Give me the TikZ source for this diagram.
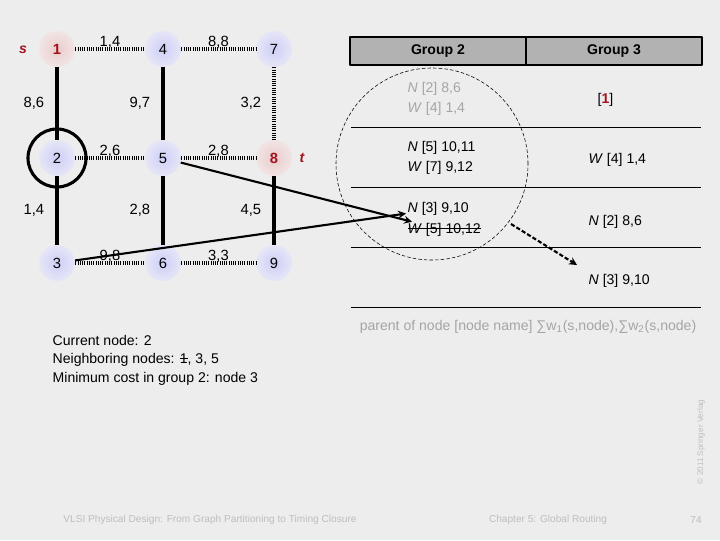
\documentclass[tikz,border=0pt]{standalone}
\usepackage{fontspec}
\setmainfont{Liberation Sans}
\usetikzlibrary{positioning}
\definecolor{bgcol}{RGB}{237,237,237}
\definecolor{sred}{RGB}{160,20,30}
\definecolor{hgray}{RGB}{178,178,178}
\definecolor{fadegray}{RGB}{165,165,165}
\definecolor{footgray}{RGB}{190,190,190}
\newcommand{\ita}[1]{\textit{#1}}
\newcommand{\strk}[1]{\setbox0\hbox{#1}\rlap{\raisebox{0.32em}{\rule{\wd0}{0.5pt}}}\box0}

\begin{document}
\begin{tikzpicture}[x=0.025cm, y=-0.025cm, font=\fontsize{10.5}{12}\selectfont, line join=round, >=stealth]
	\tikzset{gnode/.style={circle, minimum size=0.9cm, inner sep=0pt, shading=radial,
			inner color={rgb,255:red,206;green,206;blue,247}, outer color={rgb,255:red,230;green,230;blue,247}},
		snode/.style={gnode, inner color={rgb,255:red,234;green,204;blue,204}, outer color={rgb,255:red,242;green,228;blue,228},
			text=sred, font=\fontsize{10.5}{12}\selectfont\bfseries},
		dotedge/.style={line width=2.2pt, dash pattern=on 0.8pt off 0.8pt},
		soledge/.style={line width=2.2pt},
		elab/.style={inner sep=1pt},
		hcell/.style={draw, line width=1.5pt, fill=hgray, minimum width=4.4cm, minimum height=0.7cm, font=\fontsize{10}{12}\selectfont\bfseries},
		entry/.style={anchor=west, inner sep=1pt, align=left, font=\fontsize{10}{14}\selectfont},
		arr/.style={->, line width=1.5pt}}
	\useasboundingbox[fill=bgcol] (0,0) rectangle (720,540);

	% grid graph
	\foreach \n/\x/\y in {4/163/49, 7/274/49, 2/57/158, 5/163/158, 3/57/263, 6/163/263, 9/274/263}
		\node[gnode] (n\n) at (\x,\y) {\n};
	\node[snode] (n1) at (57,49) {1};
	\node[snode] (n8) at (274,158) {8};
	\node[text=sred, font=\bfseries\itshape] (ls) at (23,50) {s};
	\node[text=sred, font=\bfseries\itshape] (lt) at (302,158) {t};

	\foreach \a/\b/\w in {1/4/{1,4}, 4/7/{8,8}, 2/5/{2,6}, 5/8/{2,8}, 3/6/{9,8}, 6/9/{3,3}}
		\draw[dotedge] (n\a) -- (n\b) node[midway, above=-2pt, elab] {\w};
	\foreach \a/\b/\w in {1/2/{8,6}, 4/5/{9,7}, 2/3/{1,4}, 5/6/{2,8}, 8/9/{4,5}}
		\draw[soledge] (n\a) -- (n\b) node[midway, left=7pt, elab] {\w};
	\draw[dotedge] (n7) -- (n8) node[midway, left=7pt, elab] {3,2};
	\draw[line width=2.2pt] (n2) circle (0.725cm);

	% table of groups
	\node[hcell] (g2) at (438,51) {Group 2};
	\node[hcell] (g3) at (614,51) {Group 3};
	\foreach \y in {127,187,247,307} \draw (351,\y) -- (701,\y);
	\node[entry, text=fadegray] (r1a) at (406,99) {\ita{N} [2] 8,6\\\ita{W} [4] 1,4};
	\node[entry] (r2a) at (406,158) {\ita{N} [5] 10,11\\\ita{W} [7] 9,12};
	\node[entry] (n3b) at (406,209) {\ita{N} [3] 9,10};
	\node[entry] (w5b) at (406,230) {\strk{\ita{W} [5] 10,12}};
	\node[entry] (r1b) at (596,100) {[\textcolor{sred}{\bfseries 1}]};
	\node[entry] (r2b) at (587,160) {\ita{W} [4] 1,4};
	\node[entry] (r3b) at (587,222) {\ita{N} [2] 8,6};
	\node[entry] (r4b) at (587,281) {\ita{N} [3] 9,10};
	\node[text=fadegray, font=\fontsize{10}{12}\selectfont] (legend) at (528,327)
		{parent of node [node name] ∑w\textsubscript{1}(s,node),∑w\textsubscript{2}(s,node)};
	\draw[dashed, dash pattern=on 2.5pt off 1.5pt] (432,164) circle (2.4cm);

	\draw[arr] (n5) -- (w5b);
	\draw[arr] (n3) -- (n3b);
	\coordinate (d1) at (511,224);
	\coordinate (d2) at (577,265);
	\draw[->, line width=1.5pt, dash pattern=on 3pt off 1.5pt] (d1) -- (d2);

	\node[entry, font=\fontsize{10}{13.2}\selectfont] (info) at (51,360)
		{Current node: 2\\Neighboring nodes: \strk{1}, 3, 5\\Minimum cost in group 2: node 3};

	% footer
	\node[text=footgray, font=\fontsize{7.2}{8}\selectfont] (f1) at (210,520) {VLSI Physical Design: From Graph Partitioning to Timing Closure};
	\node[text=footgray, font=\fontsize{7.2}{8}\selectfont] (f2) at (548,520) {Chapter 5: Global Routing};
	\node[text=footgray, font=\fontsize{7.2}{8}\selectfont] (f3) at (696,520) {74};
	\node[text=footgray, font=\fontsize{5.8}{7}\selectfont, rotate=90] (f4) at (701,442) {© 2011 Springer Verlag};
\end{tikzpicture}
\end{document}
